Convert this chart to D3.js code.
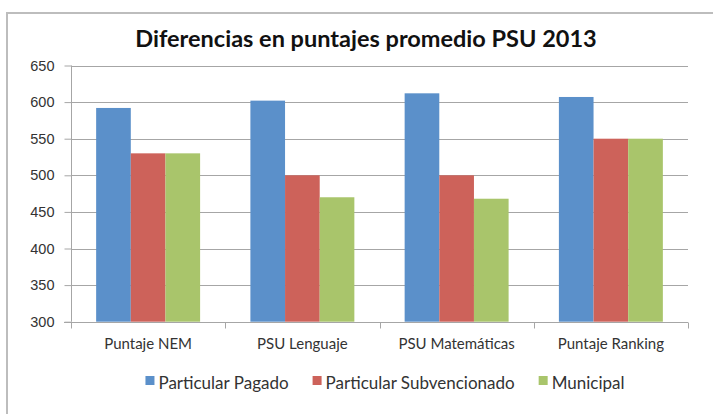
<!DOCTYPE html>
<meta charset="utf-8">
<style>
body { margin: 0; background: #fff; }
svg { display: block; font-family: Lato, "Open Sans", sans-serif; }
.grid line { stroke: #a6a6a6; stroke-width: 1px; }
.axis path, .axis line { stroke: #a6a6a6; }
.axis text { fill: #333; font-size: 14.5px; }
.x-labels text { font-size: 15px; }
.legend text { fill: #333; font-size: 17px; }
</style>
<svg id="chart" width="713" height="414"></svg>
<script src="https://d3js.org/d3.v7.min.js"></script>
<script>
var categories = ["Puntaje NEM", "PSU Lenguaje", "PSU Matemáticas", "Puntaje Ranking"];
var seriesNames = ["Particular Pagado", "Particular Subvencionado", "Municipal"];
var pagado = [592, 602, 612, 607];
var subvencionado = [530, 500, 500, 550];
var municipal = [530, 470, 468, 550];
var yTicks = [300, 350, 400, 450, 500, 550, 600, 650];
var colors = ["#5B90CA", "#CD625A", "#A9C56B"];

var series = [pagado, subvencionado, municipal];

var svg = d3.select("#chart");

// chart frame (runs off the right and bottom edges)
svg.append("rect")
   .attr("x", 7).attr("y", 13)
   .attr("width", 720).attr("height", 420)
   .attr("fill", "none")
   .attr("stroke", "#bdbdbd")
   .attr("stroke-width", 2);

svg.append("text")
   .attr("x", 366).attr("y", 47)
   .attr("text-anchor", "middle")
   .attr("font-size", 23.5)
   .attr("font-weight", "bold")
   .attr("fill", "#111")
   .text("Diferencias en puntajes promedio PSU 2013");

var plotLeft = 71, plotRight = 688, plotTop = 65.5, plotBottom = 321.7;

var x0 = d3.scaleBand()
           .domain(categories)
           .range([plotLeft, plotRight])
           .paddingInner(0.326)
           .paddingOuter(0.163);
var x1 = d3.scaleBand()
           .domain(d3.range(series.length))
           .range([0, x0.bandwidth()]);
var y = d3.scaleLinear()
          .domain([300, 650])
          .range([plotBottom, plotTop]);

svg.append("g")
   .attr("class", "grid")
   .selectAll("line")
   .data(yTicks.slice(1))
   .enter().append("line")
   .attr("x1", plotLeft).attr("x2", plotRight)
   .attr("y1", function(d) { return Math.round(y(d)) + 0.5; })
   .attr("y2", function(d) { return Math.round(y(d)) + 0.5; });

var groups = svg.append("g")
   .selectAll("g")
   .data(series)
   .enter().append("g")
   .attr("fill", function(d, i) { return colors[i]; });

groups.each(function(values, si) {
    d3.select(this).selectAll("rect")
      .data(values)
      .enter().append("rect")
      .attr("x", function(d, ci) { return x0(categories[ci]) + x1(si); })
      .attr("width", x1.bandwidth())
      .attr("y", function(d) { return y(d); })
      .attr("height", function(d) { return y(300) - y(d); });
});

var yAxis = svg.append("g")
   .attr("class", "axis")
   .attr("transform", "translate(" + (plotLeft + 0.5) + ",0)")
   .call(d3.axisLeft(y).tickValues(yTicks).tickSize(7).tickPadding(10));
yAxis.select(".domain").attr("d", "M0," + plotTop + "V" + plotBottom);

// x axis with ticks at category boundaries
var step = (plotRight - plotLeft) / categories.length;
var xAxis = svg.append("g")
   .attr("class", "axis x-labels")
   .attr("transform", "translate(0," + (Math.round(plotBottom) + 0.5) + ")");
xAxis.append("path")
   .attr("d", "M" + (plotLeft - 7) + ",0H" + plotRight)
   .attr("fill", "none");
xAxis.selectAll("line")
   .data(d3.range(categories.length + 1))
   .enter().append("line")
   .attr("x1", function(d) { return Math.round(plotLeft + d * step) + 0.5; })
   .attr("x2", function(d) { return Math.round(plotLeft + d * step) + 0.5; })
   .attr("y1", 0).attr("y2", 6);
xAxis.selectAll("text")
   .data(categories)
   .enter().append("text")
   .attr("x", function(d) { return x0(d) + x0.bandwidth() / 2; })
   .attr("y", 26)
   .attr("text-anchor", "middle")
   .text(function(d) { return d; });

// legend, laid out from the measured text widths and centred
var legend = svg.append("g").attr("class", "legend");
var items = legend.selectAll("g")
   .data(seriesNames)
   .enter().append("g");
items.append("rect")
   .attr("x", 0).attr("y", -7)
   .attr("width", 9).attr("height", 9)
   .attr("fill", function(d, i) { return colors[i]; });
items.append("text")
   .attr("x", 13).attr("y", 0)
   .attr("dy", "0.35em")
   .text(function(d) { return d; });
var pos = 0, offsets = [];
items.each(function() {
    offsets.push(pos);
    pos += 13 + d3.select(this).select("text").node().getComputedTextLength() + 24;
});
var total = pos - 24;
items.attr("transform", function(d, i) { return "translate(" + offsets[i] + ",0)"; });
legend.attr("transform", "translate(" + (385 - total / 2) + ",383)");
</script>
